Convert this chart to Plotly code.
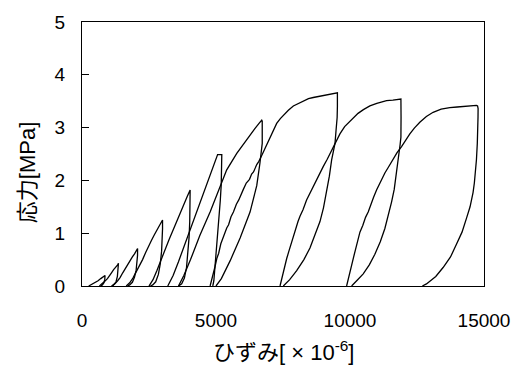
import plotly.graph_objects as go

# Cyclic compression test: strain [x10^-6] and stress [MPa], one loop per cycle
# (loading branch from the residual strain up to the peak, then unloading).
c1_strain = [250, 330, 420, 500, 600, 700, 790, 860, 850, 820, 760, 700]
c1_stress = [0.0, 0.02, 0.04, 0.07, 0.10, 0.14, 0.17, 0.20, 0.13, 0.06, 0.02, 0.0]

c2_strain = [650, 760, 850, 950, 1030, 1100, 1180, 1260, 1330, 1360, 1350, 1320, 1270, 1200, 1150]
c2_stress = [0.0, 0.04, 0.09, 0.14, 0.21, 0.25, 0.31, 0.35, 0.40, 0.43, 0.31, 0.18, 0.08, 0.02, 0.0]

c3_strain = [1100, 1220, 1330, 1420, 1520, 1600, 1700, 1790, 1880, 1960, 2030, 2074,
             2072, 2055, 2020, 1960, 1880, 1780, 1700]
c3_stress = [0.0, 0.04, 0.10, 0.16, 0.25, 0.32, 0.42, 0.48, 0.55, 0.61, 0.67, 0.71,
             0.58, 0.44, 0.30, 0.17, 0.07, 0.02, 0.0]

c4_strain = [1650, 1780, 1900, 2020, 2150, 2260, 2380, 2480, 2590, 2700, 2800, 2890, 2960, 3005,
             3005, 2995, 2970, 2920, 2850, 2750, 2640, 2550]
c4_stress = [0.0, 0.06, 0.15, 0.26, 0.38, 0.50, 0.64, 0.76, 0.86, 0.97, 1.06, 1.13, 1.19, 1.25,
             1.08, 0.88, 0.66, 0.42, 0.22, 0.08, 0.02, 0.0]

c5_strain = [2500, 2650, 2800, 2950, 3100, 3250, 3400, 3550, 3700, 3820, 3930, 4035,
             4033, 4020, 3995, 3955, 3900, 3820, 3720, 3600]
c5_stress = [0.0, 0.12, 0.30, 0.50, 0.68, 0.88, 1.06, 1.25, 1.43, 1.57, 1.70, 1.82,
             1.55, 1.22, 0.92, 0.62, 0.35, 0.15, 0.04, 0.0]

c6_strain = [3200, 3400, 3600, 3800, 4000, 4200, 4400, 4600, 4800, 4950, 5060, 5216,
             5214, 5195, 5160, 5110, 5060, 5010, 4960, 4920, 4880]
c6_stress = [0.0, 0.20, 0.46, 0.74, 1.02, 1.30, 1.58, 1.86, 2.12, 2.32, 2.49, 2.49,
             2.22, 1.92, 1.62, 1.30, 0.96, 0.62, 0.32, 0.10, 0.0]

c7_strain = [3600, 3800, 4050, 4400, 4780, 5150, 5400, 5775, 6150, 6450, 6620, 6706,
             6725, 6725, 6640, 6520, 6270, 5900, 5530, 5200, 5000]
c7_stress = [0.0, 0.20, 0.50, 0.96, 1.40, 1.90, 2.20, 2.51, 2.78, 2.98, 3.09, 3.14,
             3.12, 2.70, 2.33, 1.90, 1.40, 0.91, 0.48, 0.14, 0.0]

c8_strain = [4780, 4900, 4960, 5030, 5100, 5180, 5280, 5400, 5470, 5560, 5650, 5760, 5850, 5950,
             6020, 6130, 6250, 6330, 6400, 6520, 6600, 6706, 6820, 6900, 7016, 7130, 7264, 7400,
             7575, 7700, 7886, 8050, 8257, 8450, 8630, 8900, 9129, 9300, 9500,
             9530, 9530, 9520, 9480, 9440, 9380, 9315, 9230, 9129, 9010, 8880, 8700, 8506,
             8280, 8011, 7750, 7512]
c8_stress = [0.0, 0.22, 0.36, 0.52, 0.62, 0.80, 0.95, 1.10, 1.16, 1.31, 1.40, 1.55, 1.63, 1.76,
             1.83, 1.95, 2.02, 2.12, 2.16, 2.30, 2.36, 2.47, 2.60, 2.68, 2.82, 2.94, 3.08, 3.17,
             3.27, 3.33, 3.41, 3.45, 3.50, 3.55, 3.57, 3.60, 3.62, 3.64, 3.66,
             3.66, 3.40, 3.19, 2.95, 2.70, 2.55, 2.39, 2.08, 1.77, 1.48, 1.22, 0.96, 0.72,
             0.50, 0.29, 0.12, 0.0]

c9_strain = [7389, 7470, 7560, 7638, 7720, 7800, 7886, 7980, 8060, 8134, 8250, 8380, 8506, 8620,
             8750, 8879, 9000, 9150, 9315, 9450, 9624, 9800, 9950, 10121, 10300, 10500, 10742,
             11000, 11200, 11364, 11600, 11880,
             11900, 11905, 11900, 11870, 11834, 11790, 11737, 11650, 11550, 11430, 11301,
             11130, 10928, 10720, 10493, 10250, 10060]
c9_stress = [0.0, 0.18, 0.36, 0.52, 0.66, 0.80, 0.95, 1.08, 1.22, 1.32, 1.45, 1.63, 1.76, 1.88,
             2.02, 2.13, 2.26, 2.40, 2.57, 2.70, 2.88, 3.02, 3.10, 3.19, 3.27, 3.34, 3.41,
             3.46, 3.49, 3.51, 3.52, 3.54,
             3.54, 3.20, 2.82, 2.68, 2.54, 2.30, 2.08, 1.83, 1.59, 1.33, 1.09,
             0.84, 0.60, 0.40, 0.23, 0.10, 0.0]

c10_strain = [9874, 9960, 10040, 10121, 10200, 10290, 10370, 10480, 10580, 10679, 10780, 10880,
              10991, 11100, 11200, 11301, 11420, 11520, 11610, 11750, 11923, 12080, 12233, 12400,
              12605, 12850, 13101, 13400, 13723, 14000, 14345, 14600, 14718,
              14760, 14780, 14777, 14770, 14750, 14718, 14680, 14640, 14591, 14480, 14345,
              14180, 13972, 13750, 13474, 13200, 12853, 12700]
c10_stress = [0.0, 0.20, 0.36, 0.52, 0.68, 0.86, 1.02, 1.15, 1.30, 1.40, 1.55, 1.68,
              1.82, 1.93, 2.05, 2.14, 2.24, 2.33, 2.39, 2.52, 2.64, 2.77, 2.88, 2.99,
              3.10, 3.21, 3.29, 3.35, 3.38, 3.39, 3.40, 3.42, 3.42,
              3.41, 3.36, 3.20, 3.01, 2.70, 2.39, 2.10, 1.95, 1.77, 1.50, 1.28,
              1.02, 0.79, 0.55, 0.35, 0.18, 0.04, 0.0]

cycles = [
    (c1_strain, c1_stress), (c2_strain, c2_stress), (c3_strain, c3_stress),
    (c4_strain, c4_stress), (c5_strain, c5_stress), (c6_strain, c6_stress),
    (c7_strain, c7_stress), (c8_strain, c8_stress), (c9_strain, c9_stress),
    (c10_strain, c10_stress),
]

x_ticks = [0, 5000, 10000, 15000]
x_tick_text = ["0", "5000", "10000", "15000"]
y_ticks = [0, 1, 2, 3, 4, 5]

FONT = "Liberation Sans, Arial, Noto Sans CJK JP, sans-serif"

fig = go.Figure()
for xs, ys in cycles:
    fig.add_trace(go.Scatter(x=xs, y=ys, mode="lines",
                             line=dict(color="black", width=1.3),
                             showlegend=False, hoverinfo="skip"))

fig.update_layout(
    width=526, height=367,
    margin=dict(l=82, r=42, t=16, b=81),
    paper_bgcolor="white", plot_bgcolor="white",
    font=dict(family=FONT, size=19, color="black"),
)
fig.update_xaxes(
    range=[0, 15000], tickvals=x_ticks, ticktext=x_tick_text, ticks="",
    showgrid=False, zeroline=False,
    showline=True, linecolor="black", linewidth=1.2, mirror=True,
    ticklabelstandoff=17,
)
fig.update_yaxes(
    range=[0, 5], tickvals=y_ticks, ticks="inside", ticklen=7, tickcolor="black",
    showgrid=False, zeroline=False,
    showline=True, linecolor="black", linewidth=1.2, mirror=True,
    ticklabelstandoff=12,
)

fig.add_annotation(text="応力[MPa]", xref="paper", yref="paper", x=-0.135, y=0.43,
                   xanchor="center", yanchor="middle", textangle=-90, showarrow=False,
                   font=dict(family=FONT, size=22))
fig.add_annotation(text="ひずみ[ × 10<sup>-6</sup>]", xref="paper", yref="paper", x=0.5, y=-0.245,
                   xanchor="center", yanchor="middle", showarrow=False,
                   font=dict(family=FONT, size=22))

fig.write_html("out.html")
